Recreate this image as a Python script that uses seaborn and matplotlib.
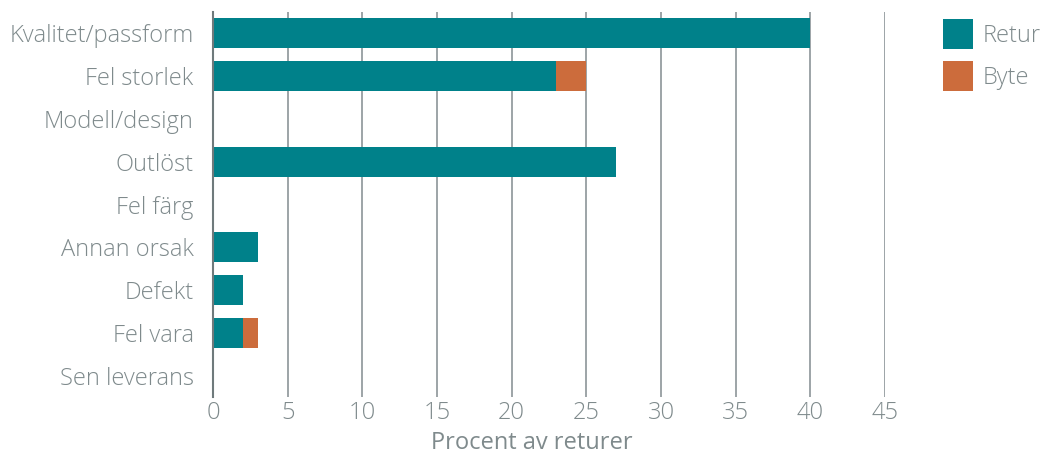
import matplotlib
matplotlib.use("Agg")
import matplotlib.pyplot as plt
import seaborn as sns
import pandas as pd
from matplotlib.patches import Patch

categories = ["Kvalitet/passform", "Fel storlek", "Modell/design", "Outlöst",
              "Fel färg", "Annan orsak", "Defekt", "Fel vara", "Sen leverans"]
retur = [40, 23, 0, 27, 0, 3, 2, 2, 0]
byte = [0, 2, 0, 0, 0, 0, 0, 1, 0]
x_ticks = [0, 5, 10, 15, 20, 25, 30, 35, 40, 45]

TEAL = "#00818A"
ORANGE = "#CC6C3C"
TEXT = "#7F8A8C"
GRID = "#8C9598"
FS = 17

sns.set_theme(style="white")
plt.rcParams["font.family"] = ["Open Sans", "DejaVu Sans"]
plt.rcParams["font.weight"] = 300

df = pd.DataFrame({"orsak": categories, "Retur": retur, "Byte": byte})
df["Totalt"] = df["Retur"] + df["Byte"]

fig = plt.figure(figsize=(10.43, 4.53), dpi=100)
ax = fig.add_axes([213 / 1043, 1 - 397 / 453, 672 / 1043, 385 / 453])

# stacked bars: total (Byte on top of Retur) behind, Retur in front
sns.barplot(data=df, x="Totalt", y="orsak", color=ORANGE, width=0.7,
            saturation=1, linewidth=0, ax=ax, zorder=2)
sns.barplot(data=df, x="Retur", y="orsak", color=TEAL, width=0.7,
            saturation=1, linewidth=0, ax=ax, zorder=3)

ax.set_xlim(0, 45)
ax.set_ylim(8.5, -0.5)
ax.set_xticks(x_ticks)
ax.set_xticklabels([str(t) for t in x_ticks])
ax.xaxis.grid(True, color=GRID, linewidth=1.2, zorder=0)
ax.set_axisbelow(True)
for s in ["top", "right", "bottom"]:
    ax.spines[s].set_visible(False)
ax.spines["left"].set_color("#6F7A7C")
ax.spines["left"].set_linewidth(1.5)
ax.spines["left"].set_zorder(4)
ax.tick_params(axis="both", length=0, labelsize=FS, labelcolor=TEXT)
ax.tick_params(axis="y", pad=14)
ax.tick_params(axis="x", pad=3)
ax.set_ylabel("")
ax.set_xlabel("Procent av returer", fontsize=FS, color=TEXT)
ax.xaxis.set_label_coords(0.475, -0.088)

handles = [Patch(facecolor=TEAL, edgecolor="none", label="Retur"),
           Patch(facecolor=ORANGE, edgecolor="none", label="Byte")]
leg = fig.legend(handles=handles, loc="upper left",
                 bbox_to_anchor=(943 / 1043, 1 - 19 / 453),
                 frameon=False, borderpad=0, borderaxespad=0,
                 handlelength=1.27, handleheight=1.6, handletextpad=0.4,
                 labelspacing=0.5, fontsize=FS)
for t in leg.get_texts():
    t.set_color(TEXT)

fig.savefig("out.png", dpi=100)
